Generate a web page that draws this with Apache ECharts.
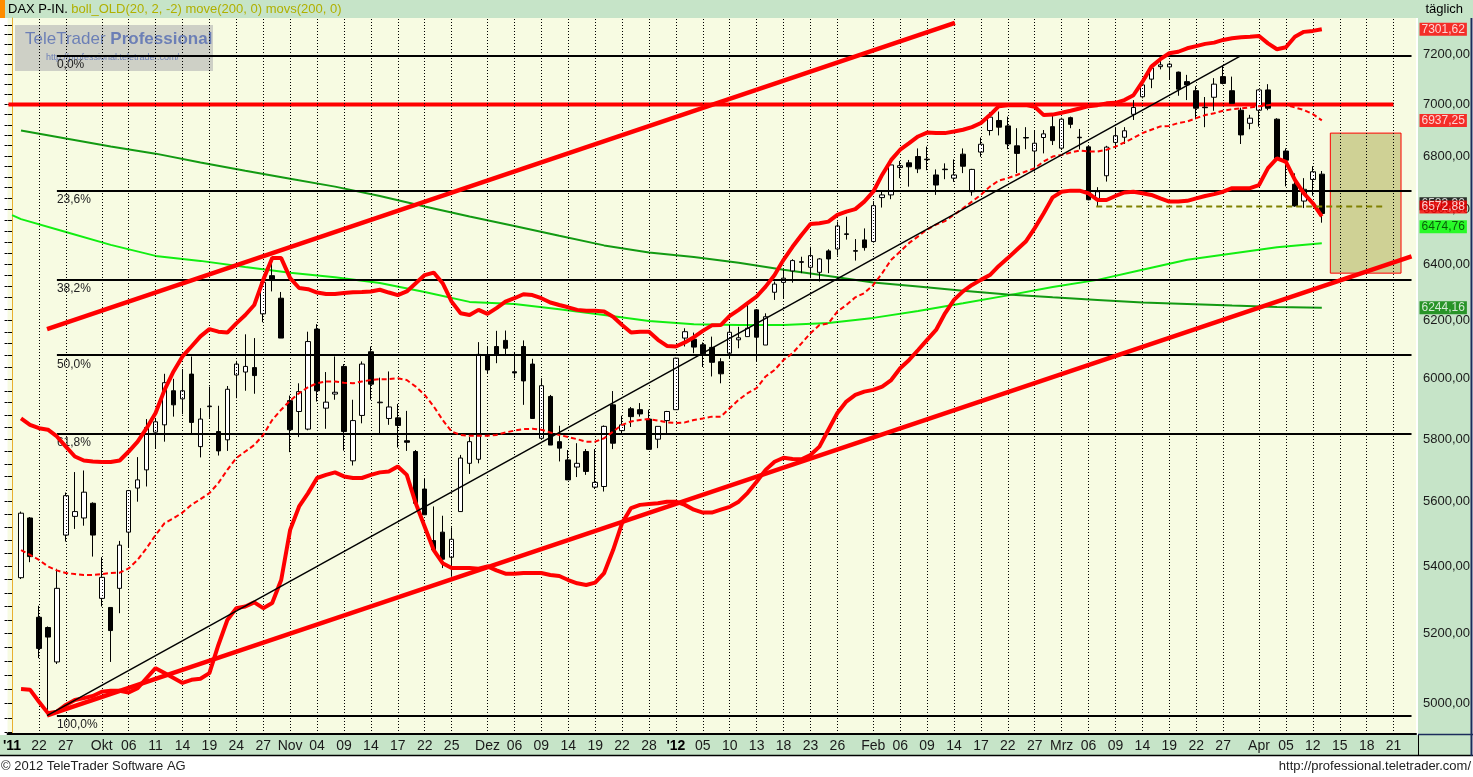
<!DOCTYPE html>
<html><head><meta charset="utf-8">
<script src="https://cdn.jsdelivr.net/npm/echarts@6/dist/echarts.min.js"></script>
<style>html,body{margin:0;padding:0;background:#fff;}#c{width:1473px;height:777px;}</style>
</head><body><div id="c"></div>
<script>
// ---------- categories (trading days, one blank lead-in day, then calendar days in the future) ----------
const categories = [
'2011-09-19','2011-09-20','2011-09-21','2011-09-22','2011-09-23','2011-09-26','2011-09-27','2011-09-28','2011-09-29','2011-09-30',
'2011-10-03','2011-10-04','2011-10-05','2011-10-06','2011-10-07','2011-10-10','2011-10-11','2011-10-12','2011-10-13','2011-10-14',
'2011-10-17','2011-10-18','2011-10-19','2011-10-20','2011-10-21','2011-10-24','2011-10-25','2011-10-26','2011-10-27','2011-10-28','2011-10-31',
'2011-11-01','2011-11-02','2011-11-03','2011-11-04','2011-11-07','2011-11-08','2011-11-09','2011-11-10','2011-11-11','2011-11-14',
'2011-11-15','2011-11-16','2011-11-17','2011-11-18','2011-11-21','2011-11-22','2011-11-23','2011-11-24','2011-11-25','2011-11-28','2011-11-29','2011-11-30',
'2011-12-01','2011-12-02','2011-12-05','2011-12-06','2011-12-07','2011-12-08','2011-12-09','2011-12-12','2011-12-13','2011-12-14',
'2011-12-15','2011-12-16','2011-12-19','2011-12-20','2011-12-21','2011-12-22','2011-12-23','2011-12-27','2011-12-28','2011-12-29','2011-12-30',
'2012-01-02','2012-01-03','2012-01-04','2012-01-05','2012-01-06','2012-01-09','2012-01-10','2012-01-11','2012-01-12','2012-01-13',
'2012-01-16','2012-01-17','2012-01-18','2012-01-19','2012-01-20','2012-01-23','2012-01-24','2012-01-25','2012-01-26','2012-01-27','2012-01-30','2012-01-31',
'2012-02-01','2012-02-02','2012-02-03','2012-02-06','2012-02-07','2012-02-08','2012-02-09','2012-02-10','2012-02-13','2012-02-14',
'2012-02-15','2012-02-16','2012-02-17','2012-02-20','2012-02-21','2012-02-22','2012-02-23','2012-02-24','2012-02-27','2012-02-28','2012-02-29',
'2012-03-01','2012-03-02','2012-03-05','2012-03-06','2012-03-07','2012-03-08','2012-03-09','2012-03-12','2012-03-13','2012-03-14',
'2012-03-15','2012-03-16','2012-03-19','2012-03-20','2012-03-21','2012-03-22','2012-03-23','2012-03-26','2012-03-27','2012-03-28','2012-03-29','2012-03-30',
'2012-04-02','2012-04-03','2012-04-04','2012-04-05','2012-04-10','2012-04-11','2012-04-12','2012-04-13',
'2012-04-14','2012-04-15','2012-04-16','2012-04-17','2012-04-18','2012-04-19','2012-04-20','2012-04-21','2012-04-22','2012-04-23'
];
const axisLabels = {
'2011-09-19':"'11",'2011-09-22':'22','2011-09-27':'27','2011-10-03':'Okt','2011-10-06':'06','2011-10-11':'11','2011-10-14':'14',
'2011-10-19':'19','2011-10-24':'24','2011-10-27':'27','2011-11-01':'Nov','2011-11-04':'04','2011-11-09':'09','2011-11-14':'14',
'2011-11-17':'17','2011-11-22':'22','2011-11-25':'25','2011-12-01':'Dez','2011-12-06':'06','2011-12-09':'09','2011-12-14':'14',
'2011-12-19':'19','2011-12-22':'22','2011-12-28':'28','2012-01-02':"'12",'2012-01-05':'05','2012-01-10':'10','2012-01-13':'13',
'2012-01-18':'18','2012-01-23':'23','2012-01-26':'26','2012-02-01':'Feb','2012-02-06':'06','2012-02-09':'09','2012-02-14':'14',
'2012-02-17':'17','2012-02-22':'22','2012-02-27':'27','2012-03-01':'Mrz','2012-03-06':'06','2012-03-09':'09','2012-03-14':'14',
'2012-03-19':'19','2012-03-22':'22','2012-03-27':'27','2012-04-02':'Apr','2012-04-05':'05','2012-04-12':'12','2012-04-15':'15',
'2012-04-18':'18','2012-04-21':'21'
};
// ---------- OHLC (2011-09-20 .. 2012-04-13) ----------
const opens = [
5366,5549,5248,5218,5118,5496,5554,5549,5595,5304, 5277,5334,5505,5643,5701,5823,5847,5960,5933,6016,
5776,5907,5825,5798,6013,6023,6038,6223,6358,6278, 5927,5891,5833,6170,5902,5949,6042,5730,5878,6092,
5920,5868,5870,5795,5760,5640,5479,5505,5428,5569, 5722,5735,6081,6110,6131,6024,6110,6050,5803,5941,
5792,5733,5710,5760,5646,5648,5913,5828,5900,5897, 5866,5800,5861,5897,6139,6135,6116,6107,6058,6087,
6133,6144,6237,6115,6299,6334,6375,6408,6388,6370, 6447,6454,6509,6448,6487,6481,6643,6653,6756,6774,
6798,6788,6728,6750,6716,6807,6665,6815,6898,6937, 6916,6839,6871,6819,6871,6913,6830,6948,6872,6835,
6640,6725,6852,6872,6961,7030,7100,7150,7149,7128, 7090,7054,6989,7028,7110,7054,6977,6926,6977,7057,
6942,6819,6693,6630,6711,6731];
const highs = [
5569,5552,5282,5221,5393,5629,5694,5699,5598,5428, 5277,5478,5637,5742,5866,5868,6017,6000,6033,6076,
5902,5974,5910,5976,6061,6152,6139,6343,6421,6300, 5944,5985,6161,6187,6023,6076,6050,5930,6059,6110,
6004,6025,5916,5893,5765,5675,5585,5556,5520,5749, 5807,6125,6110,6164,6165,6090,6131,6068,6002,5946,
5844,5765,5787,5768,5768,5845,5959,5877,5906,5919, 5897,5842,5893,6072,6173,6158,6124,6144,6070,6182,
6178,6254,6240,6225,6337,6379,6417,6426,6462,6421, 6453,6554,6572,6490,6529,6630,6668,6781,6781,6785,
6829,6836,6749,6772,6787,6829,6751,6871,6969,6972, 6952,6907,6911,6898,6900,6965,6948,6952,6904,6838,
6682,6839,6911,6911,7017,7104,7160,7194,7166,7130, 7117,7072,7029,7104,7153,7110,6987,6959,7060,7080,
6946,6829,6734,6716,6761,6743];
const lows = [
5362,5413,5129,4966,5112,5476,5515,5525,5430,5280, 5118,5260,5459,5600,5648,5771,5792,5874,5882,5820,
5741,5870,5747,5762,5935,5960,5950,6194,6302,6139, 5758,5807,5829,5924,5834,5930,5763,5715,5852,5930,
5817,5847,5773,5762,5595,5559,5451,5395,5369,5569, 5688,5722,6017,6053,6081,6002,5913,5868,5798,5781,
5728,5669,5678,5685,5640,5632,5768,5820,5840,5874, 5765,5771,5817,5897,6110,6087,6040,6008,5985,6068,
6104,6144,6059,6115,6272,6278,6333,6367,6349,6337, 6367,6430,6488,6412,6448,6477,6606,6637,6716,6684,
6735,6746,6653,6712,6702,6735,6650,6797,6879,6879, 6826,6735,6826,6741,6810,6842,6823,6907,6825,6633,
6610,6703,6829,6846,6939,7024,7064,7139,7100,7034, 7017,6942,6911,6975,7079,7004,6846,6903,6913,6977,
6787,6685,6609,6604,6650,6550];
const closes = [
5564,5430,5157,5190,5334,5619,5569,5630,5496,5367, 5209,5465,5635,5669,5838,5857,5987,5913,5960,5855,
5866,5909,5762,5965,6050,6042,6011,6334,6343,6139, 5831,5957,6127,5960,5922,5955,5825,5861,6050,5982,
5922,5906,5845,5790,5595,5559,5451,5422,5483,5739, 5792,6083,6030,6081,6104,6020,5993,5868,5977,5781,
5771,5669,5722,5696,5661,5842,5787,5847,5874,5883, 5767,5842,5891,6070,6161,6108,6085,6056,6017,6159,
6140,6173,6142,6213,6328,6349,6412,6406,6430,6418, 6418,6538,6507,6446,6459,6613,6653,6766,6763,6759,
6751,6786,6690,6748,6728,6761,6749,6845,6950,6911, 6846,6810,6869,6849,6885,6859,6942,6922,6870,6635,
6665,6834,6878,6897,6988,7077,7144,7157,7160,7060, 7077,6985,6987,7080,7083,7004,6881,6946,7057,6985,
6791,6784,6612,6674,6740,6583.90];
// ---------- Bollinger (20, 2) ----------
const bollUpper = [
5868,5847,5836,5831,5809,5776,5744,5731,5728,5726, 5726,5731,5760,5792,5836,5886,5963,6025,6076,6110,
6145,6170,6161,6158,6190,6219,6254,6343,6421,6421, 6349,6314,6310,6298,6293,6293,6296,6299,6300,6302,
6308,6298,6289,6302,6331,6360,6369,6331,6266,6225, 6219,6237,6223,6243,6266,6278,6292,6289,6278,6263,
6254,6246,6237,6234,6234,6231,6213,6184,6158,6161, 6161,6133,6112,6110,6124,6142,6164,6183,6184,6216,
6237,6261,6284,6319,6360,6415,6462,6505,6545,6548, 6554,6579,6591,6600,6628,6665,6729,6785,6824,6849,
6875,6890,6888,6888,6894,6901,6911,6927,6958,6993, 6997,6997,6997,6991,6958,6960,6967,6975,6984,6993,
6997,7004,7006,7017,7036,7089,7150,7180,7204,7210, 7224,7233,7242,7247,7258,7265,7269,7271,7274,7244,
7220,7228,7271,7291,7295,7301.62];
const bollMiddle = [
5450,5435,5420,5400,5388,5380,5377,5374,5374,5377, 5380,5381,5394,5420,5456,5496,5533,5548,5566,5590,
5608,5627,5659,5701,5739,5760,5781,5814,5863,5897, 5927,5952,5972,5985,5991,5991,5987,5985,5991,5996,
5999,5999,6002,5996,5974,5946,5908,5863,5825,5814, 5811,5811,5811,5814,5822,5828,5833,5834,5831,5822,
5814,5807,5800,5792,5792,5803,5825,5847,5858,5863, 5866,5861,5855,5853,5855,5863,5868,5874,5874,5902,
5930,5952,5969,6008,6030,6064,6087,6121,6156,6184, 6190,6231,6254,6281,6296,6325,6367,6415,6445,6476,
6500,6525,6543,6556,6579,6603,6628,6653,6684,6707, 6716,6728,6741,6754,6779,6798,6804,6813,6821,6817,
6817,6824,6836,6852,6869,6888,6901,6914,6916,6927, 6933,6946,6958,6965,6975,6981,6984,6988,6993,6997,
7001,6997,6988,6978,6962,6937.25];
const bollLower = [
5041,5039,5005,4973,4977,4996,5010,5015,5021,5033, 5036,5036,5031,5043,5072,5100,5086,5072,5058,5067,
5070,5086,5167,5240,5275,5280,5292,5275,5290,5359, 5512,5585,5627,5675,5685,5693,5680,5675,5675,5685,
5693,5696,5712,5685,5595,5522,5450,5410,5395,5395, 5395,5393,5400,5388,5378,5378,5380,5380,5380,5374,
5371,5359,5349,5344,5351,5380,5450,5533,5580,5590, 5593,5595,5600,5600,5590,5575,5566,5566,5575,5584,
5600,5628,5663,5701,5727,5740,5736,5735,5749,5776, 5831,5886,5924,5946,5957,5963,5974,5996,6036,6064,
6098,6133,6167,6225,6272,6302,6325,6343,6360,6393, 6421,6451,6481,6530,6585,6644,6665,6669,6669,6659,
6634,6634,6649,6662,6665,6659,6653,6640,6628,6628, 6631,6640,6649,6656,6665,6678,6678,6678,6690,6754,
6791,6778,6709,6659,6622,6572.88];
// ---------- 200-day averages (read every 5 sessions) ----------
const move200 = [
['2011-09-19',6578],['2011-09-20',6563],['2011-09-27',6516],['2011-10-04',6469],['2011-10-11',6429],['2011-10-18',6411],
['2011-10-25',6389],['2011-11-01',6368],['2011-11-08',6352],['2011-11-15',6332],['2011-11-22',6300],['2011-11-29',6265],
['2011-12-06',6258],['2011-12-13',6239],['2011-12-20',6219],['2011-12-28',6198],['2012-01-04',6187],['2012-01-11',6184],
['2012-01-18',6184],['2012-01-25',6191],['2012-02-01',6209],['2012-02-08',6233],['2012-02-15',6260],['2012-02-22',6288],
['2012-02-29',6318],['2012-03-07',6343],['2012-03-14',6379],['2012-03-21',6415],['2012-03-28',6438],['2012-04-04',6460],
['2012-04-13',6474.76]];
const movs200 = [
['2011-09-20',6898],['2011-09-27',6867],['2011-10-04',6836],['2011-10-11',6809],['2011-10-18',6775],['2011-10-25',6744],
['2011-11-01',6714],['2011-11-08',6684],['2011-11-15',6649],['2011-11-22',6610],['2011-11-29',6573],['2011-12-06',6538],
['2011-12-13',6502],['2011-12-20',6467],['2011-12-28',6441],['2012-01-04',6425],['2012-01-11',6404],['2012-01-18',6379],
['2012-01-25',6357],['2012-02-01',6334],['2012-02-08',6319],['2012-02-15',6304],['2012-02-22',6291],['2012-02-29',6281],
['2012-03-07',6272],['2012-03-14',6263],['2012-03-21',6258],['2012-03-28',6252],['2012-04-04',6247],['2012-04-13',6244.16]];
// ---------- drawings (x in session slots of the category list) ----------
const fibLevels = [
{label:'0,0%',value:7194.33},{label:'23,6%',value:6668.40},{label:'38,2%',value:6343.03},
{label:'50,0%',value:6080.07},{label:'61,8%',value:5817.10},{label:'100,0%',value:4965.80}];
const fibSpan = [5, 156];
const resistance = {value:7000, from:-0.4, to:154};
const trendLines = [
{from:[3.9,6170], to:[105.1,7328], color:'#ff0000', width:4.5},
{from:[3.9,4967], to:[156,6427], color:'#ff0000', width:4.5},
{from:[3.9,4966], to:[137,7194.33], color:'#000000', width:1.5}];
const supportDash = {value:6610, from:120.85, to:152.86};
const targetZone = {from:146.95, to:154.83, top:6888, bottom:6367};
const yTickValues = [5000,5200,5400,5600,5800,6000,6200,6400,6600,6800,7000,7200];
const yRange = [4915, 7348];

// ---------- build ----------
const LN = Math.log;
const fmt = v => v.toFixed(2).replace('.', ',');
const nCandles = opens.length;
const candleData = categories.map((d,k)=>{const i=k-1; if(i<0||i>=nCandles) return '-'; return [LN(opens[i]),LN(closes[i]),LN(lows[i]),LN(highs[i])];});
const bandData = arr => categories.map((d,k)=>{const i=k-1; return (i<0||i>=arr.length)?null:LN(arr[i]);});
const minorTicks = []; for (let v=4920; v<=7340; v+=40) minorTicks.push(v);
const gridSlots = categories.map((d,k)=> (k>0 && axisLabels[d]!==undefined) ? k : null).filter(k=>k!==null);
const lastClose = closes[nCandles-1];
const tags = [
 {v:bollUpper[nCandles-1], bg:'#ff0000', fg:'#ffffff', dy:0},
 {v:bollMiddle[nCandles-1], bg:'#ff0000', fg:'#ffffff', dy:0},
 {v:lastClose, bg:'#000000', fg:'#ffffff', dy:-9.8},
 {v:bollLower[nCandles-1], bg:'#ff0000', fg:'#ffffff', dy:-9.5},
 {v:move200[move200.length-1][1], bg:'#00ff00', fg:'#003300', dy:-16.6},
 {v:movs200[movs200.length-1][1], bg:'#008000', fg:'#ffffff', dy:0}];

const FONT = 'Liberation Sans, Arial, sans-serif';
const chart = echarts.init(document.getElementById('c'), null, {renderer:'canvas'});
const series = [
 {type:'line', xAxisIndex:1, yAxisIndex:0, data:[], z:1, silent:true,
  markLine:{silent:true, symbol:['none','none'], label:{show:false}, lineStyle:{color:'#000', type:[1,2], width:1},
   data: gridSlots.map(s=>({xAxis:s}))},
  markArea:{silent:true, itemStyle:{color:'rgba(128,128,0,0.34)', borderColor:'#ff0000', borderWidth:1},
   data:[[{coord:[targetZone.from, LN(targetZone.top)]},{coord:[targetZone.to, LN(targetZone.bottom)]}]]}},
 {type:'line', name:'move200', data:move200.map(([d,v])=>[d,LN(v)]), symbol:'none', lineStyle:{color:'#11ee11', width:2}, z:2, silent:true},
 {type:'line', name:'movs200', data:movs200.map(([d,v])=>[d,LN(v)]), symbol:'none', lineStyle:{color:'#129a12', width:2}, z:2, silent:true},
 {type:'line', xAxisIndex:1, yAxisIndex:0, data:[], z:3, silent:true,
  markLine:{silent:true, symbol:['none','none'], lineStyle:{color:'#000', type:'solid', width:2},
   label:{show:true, position:'insideStartBottom', color:'#222', fontSize:12, fontFamily:FONT, distance:[0,3]},
   data: fibLevels.map(f=>[{coord:[fibSpan[0], LN(f.value)], label:{formatter:f.label}},{coord:[fibSpan[1], LN(f.value)]}])}},
 {type:'line', xAxisIndex:1, yAxisIndex:0, data:[[resistance.from, LN(resistance.value)],[resistance.to, LN(resistance.value)]],
  symbol:'none', lineStyle:{color:'#ff0000', width:4}, z:3, silent:true},
 {type:'candlestick', data:candleData, barWidth:5, z:4, silent:true,
  itemStyle:{color:'#ffffff', color0:'#000000', borderColor:'#000000', borderColor0:'#000000', borderWidth:1}},
 {type:'line', name:'bollMiddle', data:bandData(bollMiddle), symbol:'none', lineStyle:{color:'#ff0000', width:2, type:[5,3]}, z:5, silent:true},
 {type:'line', name:'bollUpper', data:bandData(bollUpper), symbol:'none', lineStyle:{color:'#ff0000', width:4}, z:5, silent:true},
 {type:'line', name:'bollLower', data:bandData(bollLower), symbol:'none', lineStyle:{color:'#ff0000', width:4}, z:5, silent:true},
 ...trendLines.map(t=>({type:'line', xAxisIndex:1, yAxisIndex:0, data:[[t.from[0],LN(t.from[1])],[t.to[0],LN(t.to[1])]],
   symbol:'none', lineStyle:{color:t.color, width:t.width}, z:6, silent:true})),
 {type:'line', xAxisIndex:1, yAxisIndex:0, data:[[supportDash.from, LN(supportDash.value)],[supportDash.to, LN(supportDash.value)]],
  symbol:'none', lineStyle:{color:'#808000', width:2, type:[6,4]}, z:6, silent:true},
 {type:'scatter', xAxisIndex:1, yAxisIndex:0, clip:false, z:10, silent:true, symbolSize:1, itemStyle:{color:'transparent'},
  data: tags.map(t=>({value:[categories.length-0.5, LN(t.v)], name:fmt(t.v),
   label:{show:true, position:'right', distance:3, formatter:'{b}', offset:[0,t.dy], backgroundColor:t.bg, color:t.fg,
    fontSize:12, fontFamily:FONT, padding:[1,2,0,2]}}))}
];

const option = {
 animation:false,
 backgroundColor:'#ffffff',
 grid:{left:4, right:55, top:18, bottom:43, show:true, backgroundColor:'#f7fbe2', borderWidth:0},
 xAxis:[
  {type:'category', data:categories, boundaryGap:true,
   axisLine:{show:true, lineStyle:{color:'#000', width:2}}, axisTick:{show:false}, splitLine:{show:false},
   axisLabel:{interval:(i,v)=>axisLabels[v]!==undefined,
     formatter:v=>{const t=axisLabels[v]; return t.charAt(0)==="'" ? '{b|'+t+'}' : t;},
     color:'#1a1a1a', fontSize:14, margin:5, fontFamily:FONT,
     rich:{b:{fontWeight:'bold', fontSize:14, color:'#000', fontFamily:FONT}}}},
  {type:'value', min:-0.5, max:categories.length-0.5, show:false}
 ],
 yAxis:[
  {type:'value', position:'right', min:LN(yRange[0]), max:LN(yRange[1]), splitLine:{show:false},
   axisLine:{show:true, lineStyle:{color:'#e8b030', width:1}},
   axisTick:{show:true, inside:true, length:4, lineStyle:{color:'#000'}, customValues:minorTicks.map(LN)},
   axisLabel:{customValues:yTickValues.map(LN), formatter:v=>fmt(Math.exp(v)), color:'#1a1a1a', fontSize:13, margin:7, fontFamily:FONT}},
  {type:'value', position:'left', min:LN(yRange[0]), max:LN(yRange[1]), splitLine:{show:false},
   axisLine:{show:false}, axisTick:{show:true, inside:false, length:3, lineStyle:{color:'#000'}, customValues:minorTicks.map(LN)},
   axisLabel:{show:false}}
 ],
 graphic:[
  {type:'rect', z:-10, shape:{x:0,y:0,width:1473,height:18}, style:{fill:'#c6e4c8'}},
  {type:'rect', z:-9, shape:{x:0,y:0,width:5,height:18}, style:{fill:'#ff8c00'}},
  {type:'text', z:5, x:8, y:9, style:{text:'{a|DAX P-IN.} {b|boll_OLD(20, 2, -2) move(200, 0) movs(200, 0)}', verticalAlign:'middle',
    rich:{a:{fill:'#000', fontSize:13, fontFamily:FONT}, b:{fill:'#b0b000', fontSize:13, fontFamily:FONT}}}},
  {type:'text', z:5, x:1463, y:9, style:{text:'täglich', align:'right', verticalAlign:'middle', fill:'#000', fontSize:13, fontFamily:FONT}},
  {type:'rect', z:-10, shape:{x:1418,y:18,width:54,height:738}, style:{fill:'#c6e4c8'}},
  {type:'rect', z:-10, shape:{x:0,y:735,width:1418,height:20}, style:{fill:'#c6e4c8'}},
  {type:'line', z:5, shape:{x1:0,y1:755.5,x2:1473,y2:755.5}, style:{stroke:'#000', lineWidth:1.5}},
  {type:'line', z:5, shape:{x1:1418.5,y1:735,x2:1418.5,y2:756}, style:{stroke:'#000', lineWidth:1}},
  {type:'line', z:5, shape:{x1:1418,y1:734.5,x2:1473,y2:734.5}, style:{stroke:'#1c2c5c', lineWidth:1.5}},
  {type:'line', z:5, shape:{x1:1471.5,y1:18,x2:1471.5,y2:756}, style:{stroke:'#1c2c5c', lineWidth:2}},
  {type:'text', z:5, x:1, y:766, style:{text:'© 2012 TeleTrader Software AG', verticalAlign:'middle', fill:'#222', fontSize:13, fontFamily:FONT}},
  {type:'text', z:5, x:1471, y:766, style:{text:'http://professional.teletrader.com/', align:'right', verticalAlign:'middle', fill:'#222', fontSize:13, fontFamily:FONT}},
  {type:'group', z:1, x:15, y:25, children:[
    {type:'rect', z:1, shape:{x:0,y:0,width:198,height:46}, style:{fill:'rgba(165,165,170,0.5)'}},
    {type:'text', z:1, x:10, y:6, style:{text:'TeleTrader {b|Professional}', fill:'#6c7fb6', fontSize:17, fontFamily:FONT,
      rich:{b:{fill:'#6c7fb6', fontSize:17, fontWeight:'bold', fontFamily:FONT}}}},
    {type:'text', z:1, x:31, y:28, style:{text:'http://professional.teletrader.com/', fill:'#6c7fb6', fontSize:9, fontFamily:FONT}}
  ]}
 ],
 series
};
chart.setOption(option);
</script></body></html>
